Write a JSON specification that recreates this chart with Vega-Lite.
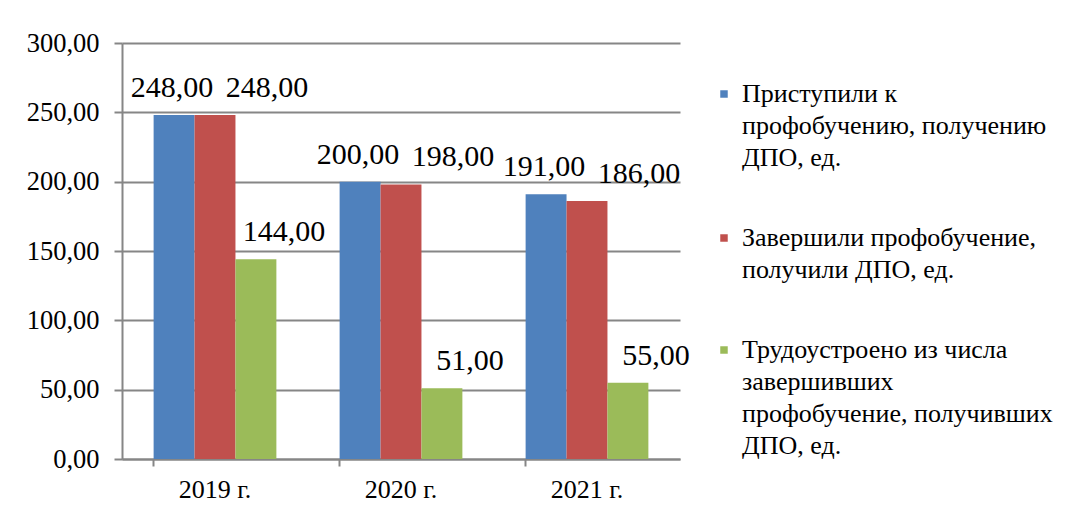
{
  "$schema": "https://vega.github.io/schema/vega-lite/v6.json",
  "width": 558,
  "height": 416,
  "autosize": "none",
  "padding": {"left": 122, "top": 43, "right": 399, "bottom": 54},
  "background": "white",
  "config": {
    "locale": {"number": {"decimal": ",", "thousands": " ", "grouping": [3], "currency": ["", ""]}},
    "font": "Liberation Serif",
    "axis": {"labelFont": "Liberation Serif"},
    "legend": {"labelFont": "Liberation Serif"},
    "text": {"font": "Liberation Serif"},
    "view": {"stroke": null}
  },
  "data": {
    "values": [
      {"year": "2019 г.", "series": "Приступили к профобучению, получению ДПО, ед.", "value": 248},
      {"year": "2019 г.", "series": "Завершили профобучение, получили ДПО, ед.", "value": 248},
      {"year": "2019 г.", "series": "Трудоустроено из числа завершивших профобучение, получивших ДПО, ед.", "value": 144},
      {"year": "2020 г.", "series": "Приступили к профобучению, получению ДПО, ед.", "value": 200},
      {"year": "2020 г.", "series": "Завершили профобучение, получили ДПО, ед.", "value": 198},
      {"year": "2020 г.", "series": "Трудоустроено из числа завершивших профобучение, получивших ДПО, ед.", "value": 51},
      {"year": "2021 г.", "series": "Приступили к профобучению, получению ДПО, ед.", "value": 191},
      {"year": "2021 г.", "series": "Завершили профобучение, получили ДПО, ед.", "value": 186},
      {"year": "2021 г.", "series": "Трудоустроено из числа завершивших профобучение, получивших ДПО, ед.", "value": 55}
    ]
  },
  "encoding": {
    "x": {
      "field": "year", "type": "nominal", "sort": null,
      "scale": {"paddingInner": 0.34, "paddingOuter": 0.17},
      "axis": {
        "title": null, "labelAngle": 0, "labelFontSize": 26, "labelColor": "black",
        "domainColor": "#868686", "domainWidth": 2, "tickColor": "#868686", "tickWidth": 2,
        "bandPosition": 0, "tickSize": 7, "labelPadding": 10
      }
    },
    "y": {
      "field": "value", "type": "quantitative",
      "scale": {"domain": [0, 300], "nice": false},
      "axis": {
        "title": null, "format": ".2f", "values": [0, 50, 100, 150, 200, 250, 300],
        "grid": true, "gridColor": "#868686", "gridWidth": 2,
        "domainColor": "#868686", "domainWidth": 2, "tickColor": "#868686", "tickWidth": 2,
        "tickSize": 8, "labelFontSize": 26.5, "labelColor": "black", "labelPadding": 15
      }
    },
    "xOffset": {
      "field": "series", "type": "nominal",
      "sort": ["Приступили к профобучению, получению ДПО, ед.", "Завершили профобучение, получили ДПО, ед.", "Трудоустроено из числа завершивших профобучение, получивших ДПО, ед."],
      "scale": {"paddingInner": 0, "paddingOuter": 0}
    }
  },
  "layer": [
    {
      "mark": {"type": "bar"},
      "encoding": {
        "color": {
          "field": "series", "type": "nominal",
          "scale": {
            "domain": ["Приступили к профобучению, получению ДПО, ед.", "Завершили профобучение, получили ДПО, ед.", "Трудоустроено из числа завершивших профобучение, получивших ДПО, ед."],
            "range": ["#4F81BD", "#C0504D", "#9BBB59"]
          },
          "legend": {
            "title": null, "orient": "none", "legendX": 589, "legendY": 38,
            "symbolType": "square", "symbolSize": 56, "symbolStrokeWidth": 0,
            "labelFontSize": 26, "labelColor": "black", "labelLimit": 400, "labelOffset": 5,
            "rowPadding": 54,
            "encode": {"labels": {"update": {"lineHeight": {"value": 32}}}},
            "labelExpr": "indexof(datum.label,'Приступили')==0 ? ['Приступили  к','профобучению, получению','ДПО, ед.'] : indexof(datum.label,'Завершили')==0 ? ['Завершили профобучение,','получили ДПО, ед.'] : ['Трудоустроено  из числа','завершивших','профобучение, получивших','ДПО, ед.']"
          }
        }
      }
    },
    {
      "transform": [{"filter": "indexof(datum.series,'Приступили')==0"}],
      "mark": {"type": "text", "fontSize": 30, "baseline": "alphabetic", "dy": -18, "dx": -2, "color": "black"},
      "encoding": {"text": {"field": "value", "type": "quantitative", "format": ".2f"}}
    },
    {
      "transform": [{"filter": "indexof(datum.series,'Завершили')==0"}],
      "mark": {"type": "text", "fontSize": 30, "baseline": "alphabetic", "dy": -18, "dx": 52, "color": "black"},
      "encoding": {"text": {"field": "value", "type": "quantitative", "format": ".2f"}}
    },
    {
      "transform": [{"filter": "indexof(datum.series,'Трудоустроено')==0"}],
      "mark": {"type": "text", "fontSize": 30, "baseline": "alphabetic", "dy": -18, "dx": 28, "color": "black"},
      "encoding": {"text": {"field": "value", "type": "quantitative", "format": ".2f"}}
    }
  ]
}
